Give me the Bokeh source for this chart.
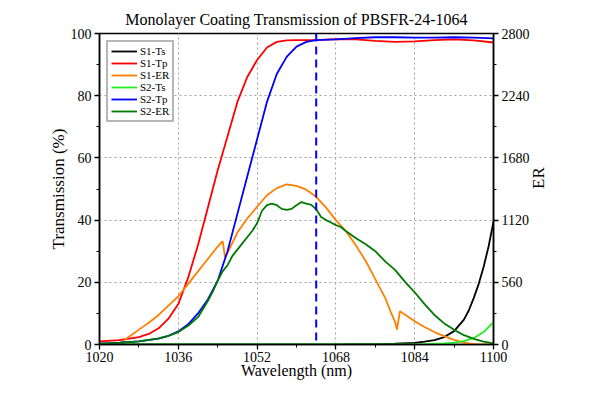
import math
from bokeh.plotting import figure
from bokeh.models import Range1d, LinearAxis, FixedTicker, Span, Legend
from bokeh.embed import file_html
from bokeh.resources import INLINE

# ---------------- data ----------------
TITLE = "Monolayer Coating Transmission of PBSFR-24-1064"
MARK_WL = 1064

x_ticks = [1020, 1036, 1052, 1068, 1084, 1100]
x_minor = [1028, 1044, 1060, 1076, 1092]
t_ticks = [0, 20, 40, 60, 80, 100]
t_minor = [10, 30, 50, 70, 90]
er_ticks = [0, 560, 1120, 1680, 2240, 2800]
er_minor = [280, 840, 1400, 1960, 2520]

wl_s1ts = [1020, 1040, 1060, 1070, 1076, 1080, 1084, 1086, 1088, 1090, 1092, 1094, 1095, 1096, 1097, 1098, 1099, 1100]
s1_ts = [0.02, 0.02, 0.05, 0.1, 0.15, 0.25, 0.5, 0.9, 1.4, 2.4, 4.3, 8, 11, 15, 19.5, 25, 31.5, 39.5]

wl_s1tp = [1020, 1024, 1028, 1030, 1032, 1034, 1036, 1038, 1040, 1042, 1044, 1046, 1048, 1050, 1052, 1054,
           1056, 1058, 1060, 1064, 1068, 1072, 1076, 1080, 1084, 1088, 1092, 1096, 1100]
s1_tp = [1.0, 1.4, 2.4, 3.4, 5.2, 8.3, 13, 21.5, 32, 44, 56, 67, 78, 86, 91.5, 95.5,
         97.3, 97.8, 97.9, 97.9, 98.2, 98.1, 97.6, 97.3, 97.5, 97.9, 98.1, 97.8, 97.1]

wl_s1er = [1020, 1022, 1024, 1026, 1028, 1030, 1032, 1034, 1036, 1038, 1040, 1042, 1044, 1045, 1045.5, 1046,
           1048, 1050, 1052, 1054, 1056, 1058, 1060, 1062, 1064, 1066, 1068, 1070, 1072, 1074, 1076, 1078,
           1079, 1080, 1080.4, 1081, 1082, 1084, 1086, 1088, 1090, 1092, 1094, 1096, 1098, 1100]
s1_er = [0, 0, 6, 70, 134, 196, 266, 350, 434, 546, 658, 770, 882, 930, 784, 826,
         1008, 1134, 1240, 1344, 1408, 1442, 1428, 1394, 1330, 1232, 1120, 1022, 896, 756, 588, 420,
         308, 204, 134, 300, 269, 210, 157, 112, 76, 42, 17, 3, 0, 0]

wl_s2ts = [1020, 1060, 1080, 1086, 1090, 1092, 1094, 1096, 1098, 1100]
s2_ts = [0.01, 0.02, 0.05, 0.15, 0.35, 0.6, 1.1, 2.1, 4.0, 7.2]

wl_s2tp = [1020, 1024, 1028, 1032, 1034, 1036, 1038, 1040, 1042, 1044, 1046, 1048, 1050, 1052, 1054, 1056,
           1058, 1060, 1062, 1064, 1068, 1072, 1076, 1080, 1084, 1088, 1092, 1096, 1100]
s2_tp = [0.3, 0.6, 1.0, 1.9, 2.8, 4.2, 6.5, 10, 14.5, 20.5, 30, 42, 54, 66, 78, 87,
         92.5, 95.8, 97.3, 97.9, 98.1, 98.5, 98.8, 98.8, 98.7, 98.7, 98.8, 98.7, 98.4]

wl_s2er = [1020, 1024, 1028, 1032, 1034, 1036, 1038, 1040, 1042, 1043, 1044, 1045, 1046, 1047, 1048, 1049,
           1050, 1051, 1052, 1053, 1054, 1055, 1056, 1057, 1058, 1059, 1060, 1061, 1062, 1063, 1064, 1065,
           1066, 1067, 1068, 1069, 1070, 1072, 1074, 1076, 1078, 1080, 1082, 1084, 1086, 1088, 1090, 1092,
           1094, 1096, 1098, 1100]
s2_er = [8, 14, 28, 56, 78, 112, 168, 246, 392, 476, 574, 658, 714, 798, 854, 910,
         966, 1022, 1092, 1204, 1254, 1268, 1254, 1221, 1212, 1221, 1254, 1282, 1268, 1257, 1218, 1148,
         1120, 1098, 1075, 1058, 1022, 958, 904, 840, 748, 672, 566, 470, 364, 266, 190, 132,
         84, 50, 25, 11]

# ---------------- figure ----------------
FONT = "Liberation Serif"

p = figure(width=584, height=384, output_backend="svg", toolbar_location=None,
           x_range=Range1d(1020, 1100), y_range=Range1d(0, 100),
           min_border_left=99, min_border_right=91, min_border_top=33, min_border_bottom=40)
p.extra_y_ranges = {"er": Range1d(0, 2800)}

p.title.text = TITLE
p.title.text_font = FONT
p.title.text_font_size = "16px"
p.title.text_font_style = "normal"
p.title.text_color = "black"
p.title.align = "center"
p.title.standoff = 11

p.outline_line_color = "black"
p.outline_line_width = 1.5
p.outline_line_alpha = 1

def style_axis(ax, label, ticks, minor):
    ax.ticker = FixedTicker(ticks=ticks, minor_ticks=minor)
    ax.axis_label = label
    ax.axis_label_text_font = FONT
    ax.axis_label_text_font_size = "17px"
    ax.axis_label_text_font_style = "normal"
    ax.axis_label_text_color = "black"
    ax.major_label_text_font = FONT
    ax.major_label_text_font_size = "14px"
    ax.major_label_text_color = "black"
    ax.axis_line_color = "black"
    ax.axis_line_width = 1.5
    ax.major_tick_line_color = "black"
    ax.minor_tick_line_color = "black"
    ax.major_tick_line_width = 1.3
    ax.minor_tick_line_width = 1.0
    ax.major_tick_out = 5
    ax.major_tick_in = 0
    ax.minor_tick_out = 3
    ax.minor_tick_in = 0
    ax.major_label_standoff = 3

style_axis(p.xaxis[0], "Wavelength (nm)", x_ticks, x_minor)
p.xaxis[0].axis_label_text_font_size = "16px"
p.xaxis[0].axis_label_standoff = -3
p.xaxis[0].major_label_standoff = 2
style_axis(p.yaxis[0], "Transmission (%)", t_ticks, t_minor)
p.yaxis[0].axis_label_standoff = 0

er_axis = LinearAxis(y_range_name="er")
style_axis(er_axis, "ER", er_ticks, er_minor)
er_axis.axis_label_standoff = 6
if hasattr(er_axis, "axis_label_orientation"):
    er_axis.axis_label_orientation = math.pi / 2
p.add_layout(er_axis, "right")

for g in (p.xgrid[0], p.ygrid[0]):
    g.grid_line_color = "#a0a0a0"
    g.grid_line_dash = "2 3"
    g.grid_line_width = 1
p.xgrid[0].ticker = FixedTicker(ticks=x_ticks[1:-1])
p.ygrid[0].ticker = FixedTicker(ticks=t_ticks[1:-1])

r1 = p.line(wl_s1ts, s1_ts, line_color="black", line_width=1.8)
r2 = p.line(wl_s1tp, s1_tp, line_color="#ff0000", line_width=1.8)
r3 = p.line(wl_s1er, s1_er, line_color="#ff8000", line_width=1.8, y_range_name="er")
r4 = p.line(wl_s2ts, s2_ts, line_color="#22ee22", line_width=1.8)
r5 = p.line(wl_s2tp, s2_tp, line_color="#0000ff", line_width=1.8)
r6 = p.line(wl_s2er, s2_er, line_color="#007a00", line_width=1.8, y_range_name="er")

p.add_layout(Span(location=MARK_WL, dimension="height", line_color="#0000ff",
                  line_width=2, line_dash="8 5"))

legend = Legend(items=[("S1-Ts", [r1]), ("S1-Tp", [r2]), ("S1-ER", [r3]),
                       ("S2-Ts", [r4]), ("S2-Tp", [r5]), ("S2-ER", [r6])],
                location="top_left")
legend.margin = 7
legend.padding = 3
legend.spacing = 0
legend.label_text_font = FONT
legend.label_text_font_size = "11px"
legend.label_text_color = "black"
legend.label_height = 10
legend.glyph_height = 10
legend.glyph_width = 26
legend.label_standoff = 3
legend.border_line_color = "#707070"
legend.border_line_width = 2
legend.background_fill_alpha = 1
p.add_layout(legend)

open("out.html", "w").write(file_html(p, INLINE))
